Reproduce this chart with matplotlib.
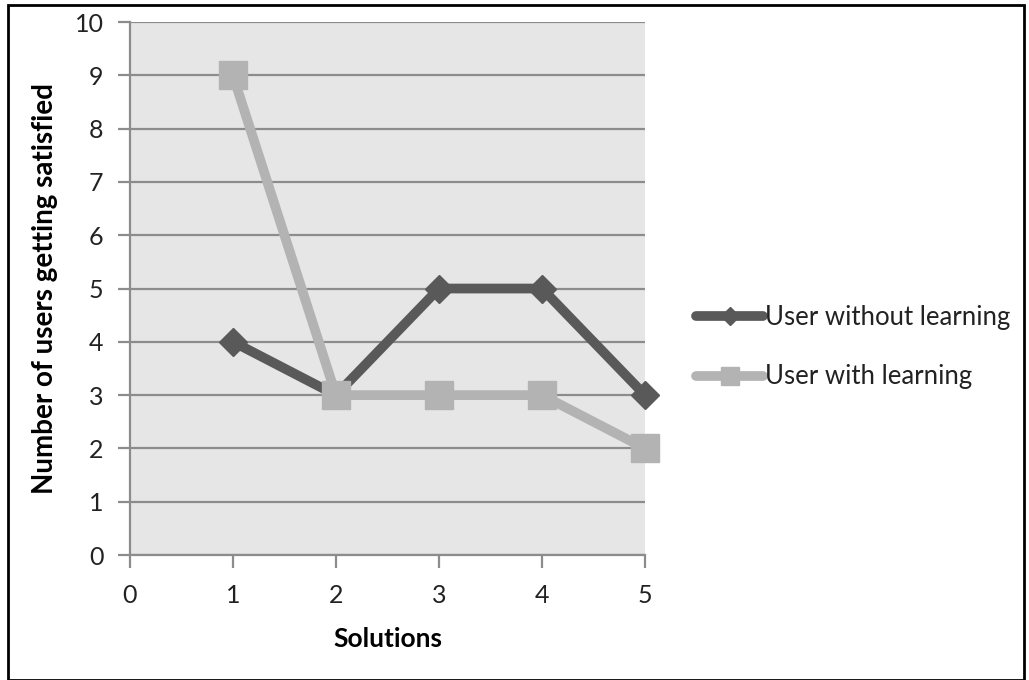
import matplotlib.pyplot as plt
from matplotlib.patches import Rectangle

solutions = [1, 2, 3, 4, 5]
without_learning = [4, 3, 5, 5, 3]
with_learning = [9, 3, 3, 3, 2]

plt.rcParams['font.family'] = ['Lato', 'DejaVu Sans']

fig = plt.figure(figsize=(10.29, 6.80), dpi=100)
ax = fig.add_axes([0.1263, 0.1838, 0.5005, 0.7838])
ax.set_facecolor('#e6e6e6')

ax.plot(solutions, without_learning, color='#595959', lw=7, marker='D',
        markersize=14, solid_capstyle='round', label='User without learning',
        zorder=3, clip_on=False)
ax.plot(solutions, with_learning, color='#b3b3b3', lw=7, marker='s',
        markersize=20, solid_capstyle='round', label='User with learning',
        zorder=3, clip_on=False)

ax.set_xlim(0, 5)
ax.set_ylim(0, 10)
ax.set_xticks(range(0, 6))
ax.set_yticks(range(0, 11))
ax.yaxis.grid(True, color='#8c8c8c', lw=1.6)
ax.set_axisbelow(True)
for side in ['top', 'right']:
    ax.spines[side].set_visible(False)
for side in ['left', 'bottom']:
    ax.spines[side].set_color('#8c8c8c')
    ax.spines[side].set_linewidth(1.6)
ax.tick_params(axis='both', colors='#8c8c8c', width=1.6, length=9,
               labelcolor='#222222', labelsize=18)
ax.tick_params(axis='x', pad=12)
ax.tick_params(axis='y', pad=10)

ax.set_xlabel('Solutions', fontsize=19, fontweight='bold', labelpad=14)
ax.set_ylabel('Number of users getting satisfied', fontsize=20,
              fontweight='bold', labelpad=12)

leg = ax.legend(loc='center left', bbox_to_anchor=(1.055, 0.39), frameon=False,
                fontsize=18.5, handlelength=2.6, handletextpad=0.05,
                labelspacing=1.35, markerscale=0.65)
for t in leg.get_texts():
    t.set_color('#222222')

fig.patches.append(Rectangle((0.008, 0.0), 0.987, 0.993, transform=fig.transFigure,
                             fill=False, edgecolor='black', lw=2))

fig.savefig('out.png', dpi=100)
